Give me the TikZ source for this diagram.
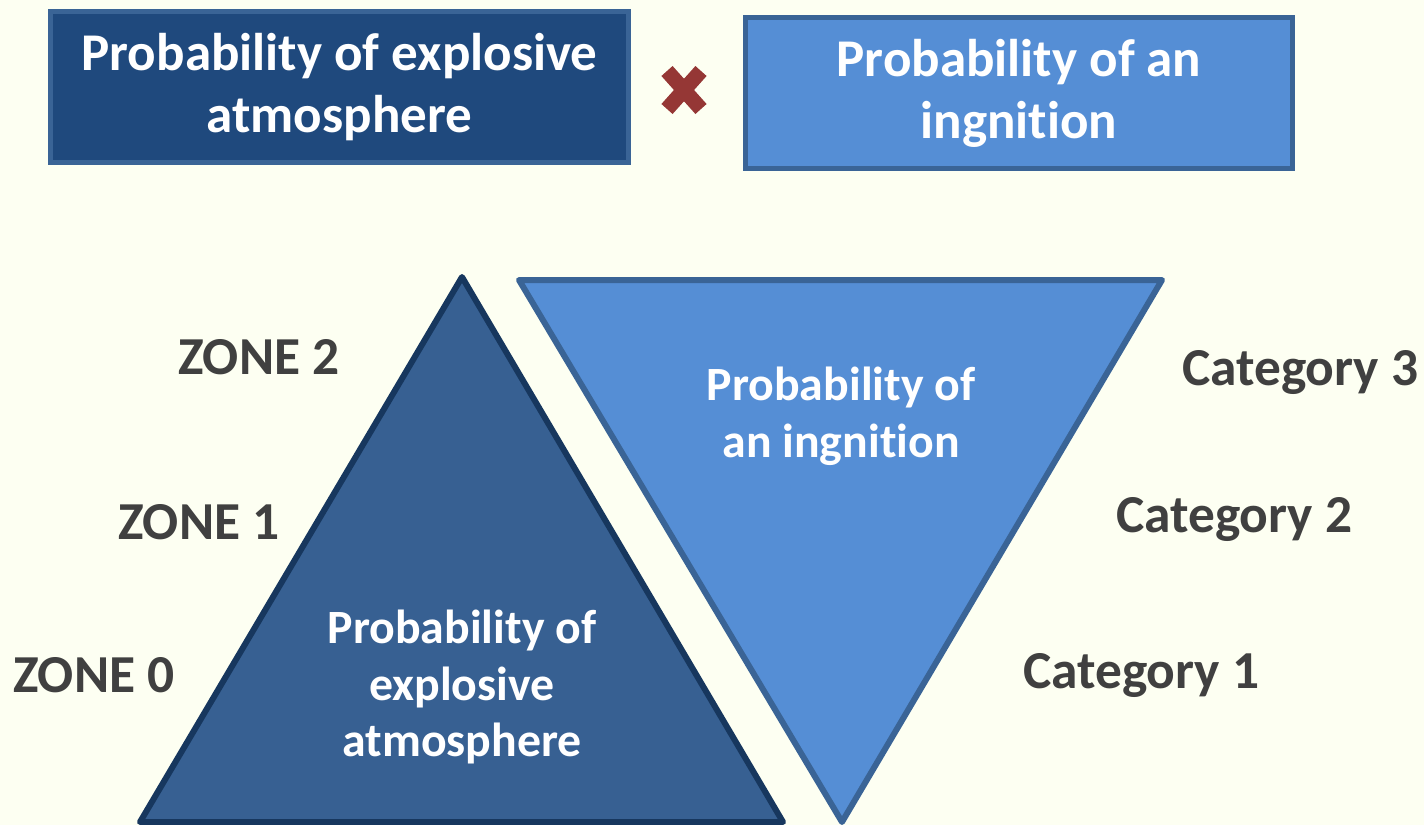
\documentclass[tikz,border=0pt]{standalone}
\usepackage{fontspec}
\setmainfont{Carlito}[Ligatures=NoCommon]
\usetikzlibrary{calc}

\definecolor{bgivory}{HTML}{FDFFF2}
\definecolor{darkbox}{HTML}{1F497D}
\definecolor{lightbox}{HTML}{558ED5}
\definecolor{boxedge}{HTML}{3A6496}
\definecolor{darktri}{HTML}{376092}
\definecolor{darkedge}{HTML}{17375E}
\definecolor{crossred}{HTML}{953735}
\definecolor{labelgray}{HTML}{404040}

% no "ti" ligature, as in the picture
\newcommand{\ignword}{ingnit\kern0pt ion}

\tikzset{
  topbox/.style={draw=boxedge, line width=5*0.02cm, anchor=north west,
    inner sep=0pt, font=\bfseries\fontsize{30.2}{35.3}\selectfont,
    text=white, align=center},
  tritext/.style={font=\bfseries\fontsize{27.2}{32.4}\selectfont,
    text=white, align=center},
  sidelabel/.style={font=\bfseries\fontsize{30.4}{34}\selectfont,
    text=labelgray, anchor=west}
}

\begin{document}
\begin{tikzpicture}[x=0.02cm,y=-0.02cm]
\fill[bgivory] (0,0) rectangle (1424,825);
\useasboundingbox (0,0) rectangle (1424,825);
% top row: the two factors
  \node[topbox, fill=darkbox, minimum width=578*0.02cm, minimum height=151*0.02cm]
    (pexp) at (48,9) {Probability of explosive\\atmosphere};
  \node[topbox, fill=lightbox, minimum width=547*0.02cm, minimum height=151*0.02cm]
    (pign) at (743,15) {Probability of an\\\ignword};
% the cross between them
  \coordinate (times) at (684,90);
  \draw[crossred, line width=15*0.02cm] ($(times)+(-17,-19)$) -- ($(times)+(17,19)$);
  \draw[crossred, line width=15*0.02cm] ($(times)+(17,-19)$) -- ($(times)+(-17,19)$);
% lower row: the two triangles
  \coordinate (apex) at (462,277);
  \coordinate (bl) at (140,822);
  \coordinate (br) at (783,822);
  \draw[darkedge, fill=darktri, line width=6*0.02cm, line join=round]
    (apex) -- (br) -- (bl) -- cycle;
  \coordinate (tl) at (519,280);
  \coordinate (tr) at (1162,280);
  \coordinate (tip) at (842,822);
  \draw[boxedge, fill=lightbox, line width=6*0.02cm, line join=round]
    (tl) -- (tr) -- (tip) -- cycle;
  \node[tritext] (texp) at (462,687) {Probability of\\explosive\\atmosphere};
  \node[tritext] (tign) at (841,416) {Probability of\\an \ignword};
% zones on the left, categories on the right
  \node[sidelabel] (z2) at (172,357) {ZONE 2};
  \node[sidelabel] (z1) at (112,522) {ZONE 1};
  \node[sidelabel] (z0) at (7,675) {ZONE 0};
  \node[sidelabel] (c3) at (1176,373) {Category 3};
  \node[sidelabel] (c2) at (1110,520) {Category 2};
  \node[sidelabel] (c1) at (1017,676) {Category 1};
\end{tikzpicture}
\end{document}
